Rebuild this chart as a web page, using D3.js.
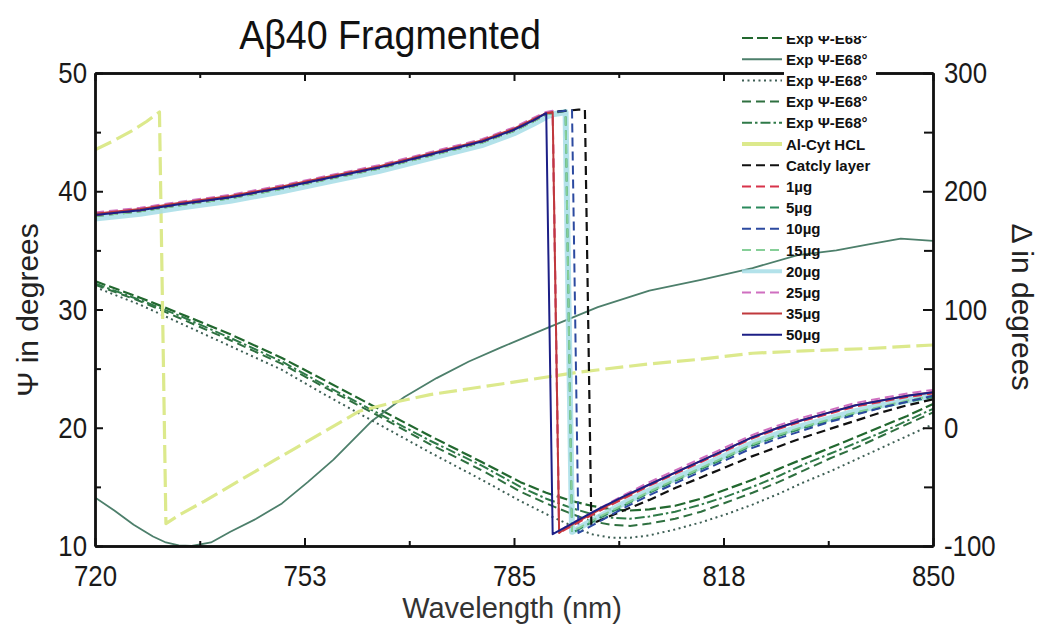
<!DOCTYPE html>
<html>
<head>
<meta charset="utf-8">
<script src="https://cdn.jsdelivr.net/npm/d3@7"></script>
<style>
  html, body { margin: 0; padding: 0; background: #fff; }
  svg { display: block; font-family: "Liberation Sans", Arial, sans-serif; }
</style>
</head>
<body>
<svg id="chart" width="1044" height="628"></svg>
<script>
// ---- axis definitions ----
const xTicks = [720, 752.5, 785, 817.5, 850];
const xTickLabels = ["720", "753", "785", "818", "850"];
const xMinorTicks = [736.25, 768.75, 801.25, 833.75];
const psiTicks = [10, 20, 30, 40, 50];
const psiMinorTicks = [15, 25, 35, 45];
const deltaTicks = [-100, 0, 100, 200, 300];
const deltaMinorTicks = [-50, 50, 150, 250];

// ---- model Δ curves (right axis), shared wavelength grid ----
const deltaWavelengths = [720, 727, 733, 741, 749, 756, 764, 772, 780, 785, 788, 790, 791, 792, 793, 794, 795, 796, 797, 798, 802, 806, 810, 814, 818, 822, 826, 830, 834, 838, 842, 846, 850];
const catclyLayer = [180, 184, 189, 195, 203, 211, 220, 231, 242, 252, 260, 266, 267, 267.5, 268, 268.5, 269, 269, -82, -79, -70, -61, -51, -42, -33, -24, -16, -8, -1, 6, 13, 19, 24];
const amount1 = [180, 184, 189, 195, 203, 211, 220, 231, 242, 252, 260, 266, 267, -89, -86, -83, -80, -77, -74, -71, -60, -49, -39, -29, -19, -9, -1, 6, 12, 18, 22, 26, 29];
const amount5 = [179, 183, 188, 194, 202, 210, 219, 230, 241, 251, 259, 265, 266, 267, 268, -89, -86, -83, -80, -77, -66, -55, -45, -35, -25, -15, -7, 0, 6, 12, 17, 22, 26];
const amount10 = [180, 184, 189, 195, 203, 211, 220, 231, 242, 252, 260, 266, 267, 267.5, 268, 268.5, -89, -86, -83, -80, -68, -57, -47, -37, -27, -17, -9, -2, 5, 11, 17, 22, 27];
const amount15 = [179, 183, 188, 194, 202, 210, 219, 230, 241, 251, 259, 265, 266, 267, 268, -88, -85, -82, -79, -76, -65, -54, -44, -34, -24, -14, -6, 1, 7, 13, 18, 23, 27];
const amount20 = [177, 181, 186, 192, 200, 208, 217, 228, 239, 249, 257, 263, 265, 266, 267, -88, -85, -82, -79, -76, -64, -53, -43, -33, -23, -13, -5, 2, 8, 14, 19, 23, 27];
const amount25 = [182, 186, 191, 197, 205, 213, 222, 233, 244, 254, 262, 267, 268, -88, -84, -81, -78, -75, -72, -69, -57, -46, -36, -26, -16, -6, 2, 9, 15, 21, 25, 29, 32];
const amount35 = [181, 185, 190, 196, 204, 212, 221, 232, 243, 253, 261, 266, 267, -89, -85, -82, -79, -76, -73, -70, -59, -48, -38, -28, -18, -8, 0, 7, 13, 19, 23, 27, 30];
const amount50 = [180, 184, 189, 195, 203, 211, 220, 231, 242, 252, 260, 266, -90, -87, -84, -81, -78, -75, -72, -69, -58, -48, -38, -28, -18, -8, 0, 7, 13, 19, 23, 27, 30];

// ---- Al-Cyt HCL Δ (right axis) ----
const alCytWavelengths = [720, 723, 726, 728, 730, 731, 733, 737, 742, 748, 755, 761, 766, 772, 778, 783, 795, 806, 814, 822, 830, 840, 850];
const alCytDelta = [235, 243, 252, 259, 267, -81, -74, -62, -46, -27, -5, 14, 21, 28, 33, 37, 47, 54, 58, 63, 65, 67, 70];

// ---- experimental Ψ at 68° (left axis) ----
const expWavelengths = [720, 727, 733, 741, 749, 756, 764, 772, 780, 786, 790, 794, 797, 800, 803, 806, 810, 814, 818, 822, 826, 830, 834, 838, 842, 846, 850];
const expPsiA = [32.4, 31.0, 29.7, 27.9, 25.9, 23.9, 21.6, 19.3, 17.1, 15.4, 14.5, 13.8, 13.4, 13.1, 13.0, 13.1, 13.4, 14.0, 14.8, 15.6, 16.5, 17.4, 18.3, 19.2, 20.1, 21.0, 22.0];
const expPsiC = [31.9, 30.4, 28.9, 26.9, 24.9, 22.7, 20.3, 17.9, 15.6, 13.8, 12.7, 11.7, 11.0, 10.7, 10.7, 10.9, 11.4, 12.0, 12.7, 13.5, 14.4, 15.4, 16.3, 17.3, 18.3, 19.3, 20.3];
const expPsiD = [32.1, 30.7, 29.3, 27.4, 25.4, 23.3, 21.0, 18.6, 16.4, 14.6, 13.6, 12.7, 12.1, 11.8, 11.7, 11.9, 12.3, 12.9, 13.7, 14.5, 15.4, 16.4, 17.4, 18.3, 19.3, 20.3, 21.3];
const expPsiE = [32.2, 30.8, 29.5, 27.6, 25.6, 23.5, 21.2, 18.9, 16.8, 15.0, 14.0, 13.2, 12.7, 12.4, 12.3, 12.5, 12.9, 13.5, 14.2, 15.0, 15.9, 16.9, 17.8, 18.7, 19.6, 20.6, 21.6];
const expSolidWavelengths = [720, 723, 726, 729, 731, 733, 735, 738, 741, 745, 749, 753, 757, 763, 768, 773, 778, 783, 790, 798, 806, 814, 822, 829, 835, 840, 845, 850];
const expPsiB = [14.1, 13.0, 11.8, 10.8, 10.3, 10.05, 10.0, 10.3, 11.2, 12.3, 13.6, 15.4, 17.3, 20.6, 22.6, 24.2, 25.6, 26.8, 28.4, 30.2, 31.6, 32.5, 33.5, 34.6, 35.0, 35.5, 36.0, 35.8];

// ---- legend labels ----
const legendLabels = ["Exp \u03A8-E68\u00B0", "Exp \u03A8-E68\u00B0", "Exp \u03A8-E68\u00B0", "Exp \u03A8-E68\u00B0", "Exp \u03A8-E68\u00B0",
  "Al-Cyt HCL", "Catcly layer", "1\u00B5g", "5\u00B5g", "10\u00B5g", "15\u00B5g", "20\u00B5g", "25\u00B5g", "35\u00B5g", "50\u00B5g"];

const svg = d3.select("#chart");
const plot = { left: 95, right: 933, top: 73, bottom: 546 };

const x = d3.scaleLinear().domain([720, 850]).range([plot.left, plot.right]);
const yPsi = d3.scaleLinear().domain([10, 50]).range([plot.bottom, plot.top]);
const yDelta = d3.scaleLinear().domain([-100, 300]).range([plot.bottom, plot.top]);

const DASH = "9,5", DOT = "2,3.5", DASHDOT = "10,3,2.5,3", LONGDASH = "11,4";

// one entry per plotted line; label is the legend row index
const series = [
  { label: 0, wl: expWavelengths, v: expPsiA, y: yPsi, color: "#22682f", w: 2.2, dash: LONGDASH },
  { label: 1, wl: expSolidWavelengths, v: expPsiB, y: yPsi, color: "#4d7f6b", w: 1.8, dash: null },
  { label: 2, wl: expWavelengths, v: expPsiC, y: yPsi, color: "#3e5f55", w: 2, dash: DOT },
  { label: 3, wl: expWavelengths, v: expPsiD, y: yPsi, color: "#2f7040", w: 2, dash: DASH },
  { label: 4, wl: expWavelengths, v: expPsiE, y: yPsi, color: "#2f7a48", w: 2, dash: DASHDOT },
  { label: 5, wl: alCytWavelengths, v: alCytDelta, y: yDelta, color: "#dce98c", w: 3.2, dash: "18,6" },
  { label: 11, wl: deltaWavelengths, v: amount20, y: yDelta, color: "#a6dde6", w: 6, dash: null, op: 0.85 },
  { label: 8, wl: deltaWavelengths, v: amount5, y: yDelta, color: "#2b8a5c", w: 2, dash: DASH },
  { label: 10, wl: deltaWavelengths, v: amount15, y: yDelta, color: "#86cf98", w: 2, dash: DASH },
  { label: 6, wl: deltaWavelengths, v: catclyLayer, y: yDelta, color: "#111111", w: 2.2, dash: DASH },
  { label: 9, wl: deltaWavelengths, v: amount10, y: yDelta, color: "#2c4aa0", w: 2, dash: DASH },
  { label: 7, wl: deltaWavelengths, v: amount1, y: yDelta, color: "#d8334a", w: 2, dash: DASH },
  { label: 12, wl: deltaWavelengths, v: amount25, y: yDelta, color: "#cf6fc0", w: 2, dash: DASH },
  { label: 13, wl: deltaWavelengths, v: amount35, y: yDelta, color: "#c0393c", w: 2, dash: null },
  { label: 14, wl: deltaWavelengths, v: amount50, y: yDelta, color: "#1c1f86", w: 2, dash: null }
];

// compress glyphs horizontally to mimic a narrow face
function condense(sel, f) {
  sel.each(function () {
    const L = this.getComputedTextLength();
    d3.select(this).attr("textLength", L * f).attr("lengthAdjust", "spacingAndGlyphs");
  });
}
// integer labels with a plain hyphen for negatives
const intFmt = d => String(Math.round(d));

// ---- curves ----
svg.append("defs").append("clipPath").attr("id", "plotClip")
  .append("rect").attr("x", plot.left).attr("y", plot.top - 4)
  .attr("width", plot.right - plot.left).attr("height", plot.bottom - plot.top + 6);

const curves = svg.append("g").attr("clip-path", "url(#plotClip)");
series.forEach(s => {
  const pts = s.wl.map((w, i) => [w, s.v[i]]);
  const line = d3.line().x(d => x(d[0])).y(d => s.y(d[1]));
  curves.append("path")
    .datum(pts)
    .attr("d", line)
    .attr("fill", "none")
    .attr("stroke", s.color)
    .attr("stroke-width", s.w)
    .attr("stroke-opacity", s.op || 1)
    .attr("stroke-linejoin", "round")
    .attr("stroke-dasharray", s.dash);
});

// ---- axes (ticks point inward) ----
const fontTick = 30;
svg.append("g").attr("transform", `translate(${plot.left},0)`)
  .call(d3.axisLeft(yPsi).tickValues(psiTicks).tickSizeInner(-8).tickSizeOuter(0).tickPadding(8).tickFormat(intFmt));
svg.append("g").attr("transform", `translate(${plot.left},0)`)
  .call(d3.axisLeft(yPsi).tickValues(psiMinorTicks).tickSizeInner(-6).tickSizeOuter(0).tickFormat(""));
svg.append("g").attr("transform", `translate(${plot.right},0)`)
  .call(d3.axisRight(yDelta).tickValues(deltaTicks).tickSizeInner(-10).tickSizeOuter(0).tickPadding(11).tickFormat(intFmt));
svg.append("g").attr("transform", `translate(${plot.right},0)`)
  .call(d3.axisRight(yDelta).tickValues(deltaMinorTicks).tickSizeInner(-9).tickSizeOuter(0).tickFormat(""));
svg.append("g").attr("transform", `translate(0,${plot.bottom})`)
  .call(d3.axisBottom(x).tickValues(xTicks).tickSizeInner(-8).tickSizeOuter(0).tickPadding(19).tickFormat((d, i) => xTickLabels[i]));
svg.append("g").attr("transform", `translate(0,${plot.bottom})`)
  .call(d3.axisBottom(x).tickValues(xMinorTicks).tickSizeInner(-5).tickSizeOuter(0).tickFormat(""));
svg.append("g").attr("transform", `translate(0,${plot.top})`)
  .call(d3.axisTop(x).tickValues(xTicks).tickSizeInner(-8).tickSizeOuter(0).tickFormat(""));
svg.append("g").attr("transform", `translate(0,${plot.top})`)
  .call(d3.axisTop(x).tickValues(xMinorTicks).tickSizeInner(-5).tickSizeOuter(0).tickFormat(""));

svg.selectAll(".domain").attr("stroke", "#111").attr("stroke-width", 2.4);
svg.selectAll(".tick line").attr("stroke", "#111").attr("stroke-width", 2);
svg.selectAll(".tick text").attr("font-size", fontTick).attr("fill", "#1a1a1a")
  .attr("font-family", "'Liberation Sans', Arial, sans-serif");
condense(svg.selectAll(".tick text"), 0.86);

// ---- titles ----
const title = svg.append("text").attr("x", 390).attr("y", 49).attr("text-anchor", "middle")
  .attr("font-size", 40).attr("fill", "#111").text("A\u03B240 Fragmented");
condense(title, 0.94);

svg.append("text").attr("transform", "translate(512,618)").attr("text-anchor", "middle")
  .attr("font-size", 29).attr("fill", "#333").text("Wavelength (nm)");
svg.append("text").attr("transform", "translate(38,310) rotate(-90)").attr("text-anchor", "middle")
  .attr("font-size", 30).attr("fill", "#222").text("\u03A8 in degrees");
svg.append("text").attr("transform", "translate(1012,307) rotate(90)").attr("text-anchor", "middle")
  .attr("font-size", 30).attr("fill", "#222").text("\u0394 in degrees");

// ---- legend ----
const legend = svg.append("g");
legend.append("defs").append("clipPath").attr("id", "legClip")
  .append("rect").attr("x", 730).attr("y", 36).attr("width", 170).attr("height", 320);
legend.append("rect").attr("x", 784).attr("y", 66).attr("width", 92).attr("height", 18).attr("fill", "#fff");
const rows = legend.append("g").attr("clip-path", "url(#legClip)");
series.forEach(s => {
  const yy = 38 + 21.2 * s.label;
  rows.append("line").attr("x1", 742).attr("x2", 782).attr("y1", yy).attr("y2", yy)
    .attr("stroke", s.color).attr("stroke-width", (s.label === 11 || s.label === 5) ? 4 : 2)
    .attr("stroke-opacity", s.op || 1)
    .attr("stroke-dasharray", s.label === 5 ? null : s.dash);
  rows.append("text").attr("x", 786).attr("y", yy + 5.5).attr("font-size", 15).attr("font-weight", "bold")
    .attr("fill", "#111").text(legendLabels[s.label]);
});
</script>
</body>
</html>
